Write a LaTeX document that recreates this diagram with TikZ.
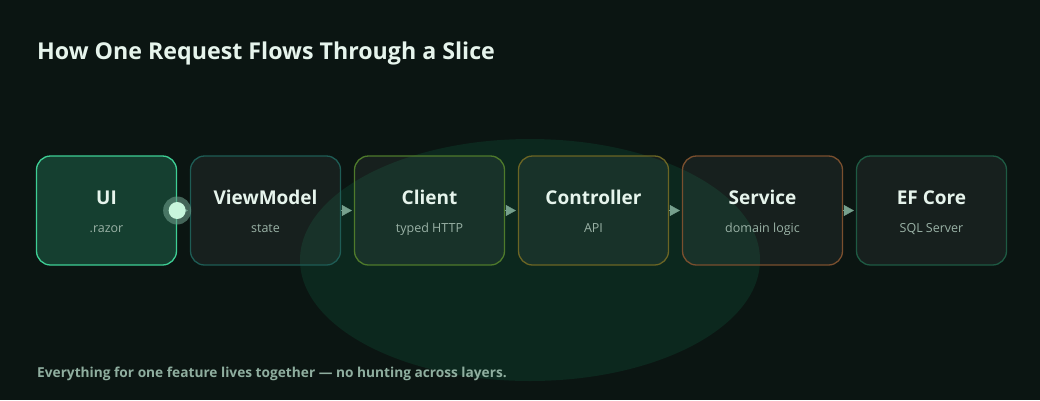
\documentclass[tikz,border=0pt]{standalone}
\usepackage{fontspec}
\setmainfont{Open Sans}
\usetikzlibrary{arrows.meta}
\definecolor{bg}{HTML}{0B1512}
\definecolor{blob}{HTML}{0C281E}
\definecolor{titlec}{HTML}{E6F4EC}
\definecolor{subc}{HTML}{9AB2A6}
\definecolor{footc}{HTML}{8FAE9F}
\definecolor{arrc}{HTML}{76A08D}
\definecolor{uifill}{HTML}{153F30}
\definecolor{uiline}{HTML}{3ECF95}
\definecolor{vmline}{HTML}{1E5C55}
\definecolor{clline}{HTML}{4E7A2B}
\definecolor{ctline}{HTML}{6B6524}
\definecolor{svline}{HTML}{7A4F2E}
\definecolor{efline}{HTML}{1E5A43}
\definecolor{dotout}{HTML}{6A9A88}
\definecolor{dotin}{HTML}{C8F5DC}
\tikzset{
  layerbox/.style={rectangle, rounded corners=14pt, minimum height=109pt, line width=1.3pt, fill=white, fill opacity=0.05, draw opacity=1, inner sep=0pt},
  boxtitle/.style={anchor=base, text=titlec, font=\fontsize{19}{22}\selectfont\bfseries},
  boxsub/.style={anchor=base, text=subc, font=\fontsize{12.5}{15}\selectfont},
  flow/.style={draw=arrc, fill=arrc, line width=0.3pt, -{Triangle[length=10pt,width=11pt]}, shorten >=2pt},
}
\begin{document}
\begin{tikzpicture}[x=1pt,y=-1pt]
\fill[bg] (0,0) rectangle (1040,400);
\useasboundingbox (0,0) rectangle (1040,400);
% background blob
\fill[blob] (530,260) ellipse [x radius=230pt, y radius=121pt];
% title
\node[anchor=base west, text=titlec, font=\fontsize{23.2}{27}\selectfont\bfseries, inner sep=0pt] (title) at (37,59) {How One Request Flows Through a Slice};
% boxes
\node[layerbox, minimum width=140pt, draw=uiline, fill=uifill, fill opacity=1] (ui) at (106.5,210.5) {};
\node[layerbox, minimum width=150pt, draw=vmline] (vm) at (265.5,210.5) {};
\node[layerbox, minimum width=150pt, draw=clline] (cl) at (429.5,210.5) {};
\node[layerbox, minimum width=150pt, draw=ctline] (ct) at (593.5,210.5) {};
\node[layerbox, minimum width=160pt, draw=svline] (sv) at (762.5,210.5) {};
\node[layerbox, minimum width=150pt, draw=efline] (ef) at (931.5,210.5) {};
% labels
\foreach \n/\t/\s in {ui/UI/.razor, vm/ViewModel/state, cl/Client/typed HTTP, ct/Controller/API, sv/Service/domain logic, ef/EF Core/SQL Server}{
  \path (\n.center) ++(0,-6.5) node[boxtitle] (\n-t) {\t};
  \path (\n.center) ++(0,21.5) node[boxsub] (\n-s) {\s};
}
% connectors
\draw[flow] (ui.east) -- (vm.west);
\draw[flow] (vm.east) -- (cl.west);
\draw[flow] (cl.east) -- (ct.west);
\draw[flow] (ct.east) -- (sv.west);
\draw[flow] (sv.east) -- (ef.west);
% packet dot
\fill[dotout, opacity=0.6] (ui.east) circle (14pt);
\fill[dotin] (ui.east) circle (8.5pt);
% footer
\node[anchor=base west, text=footc, font=\fontsize{13.7}{17}\selectfont\bfseries, inner sep=0pt] (foot) at (37,377) {Everything for one feature lives together — no hunting across layers.};
\end{tikzpicture}
\end{document}
